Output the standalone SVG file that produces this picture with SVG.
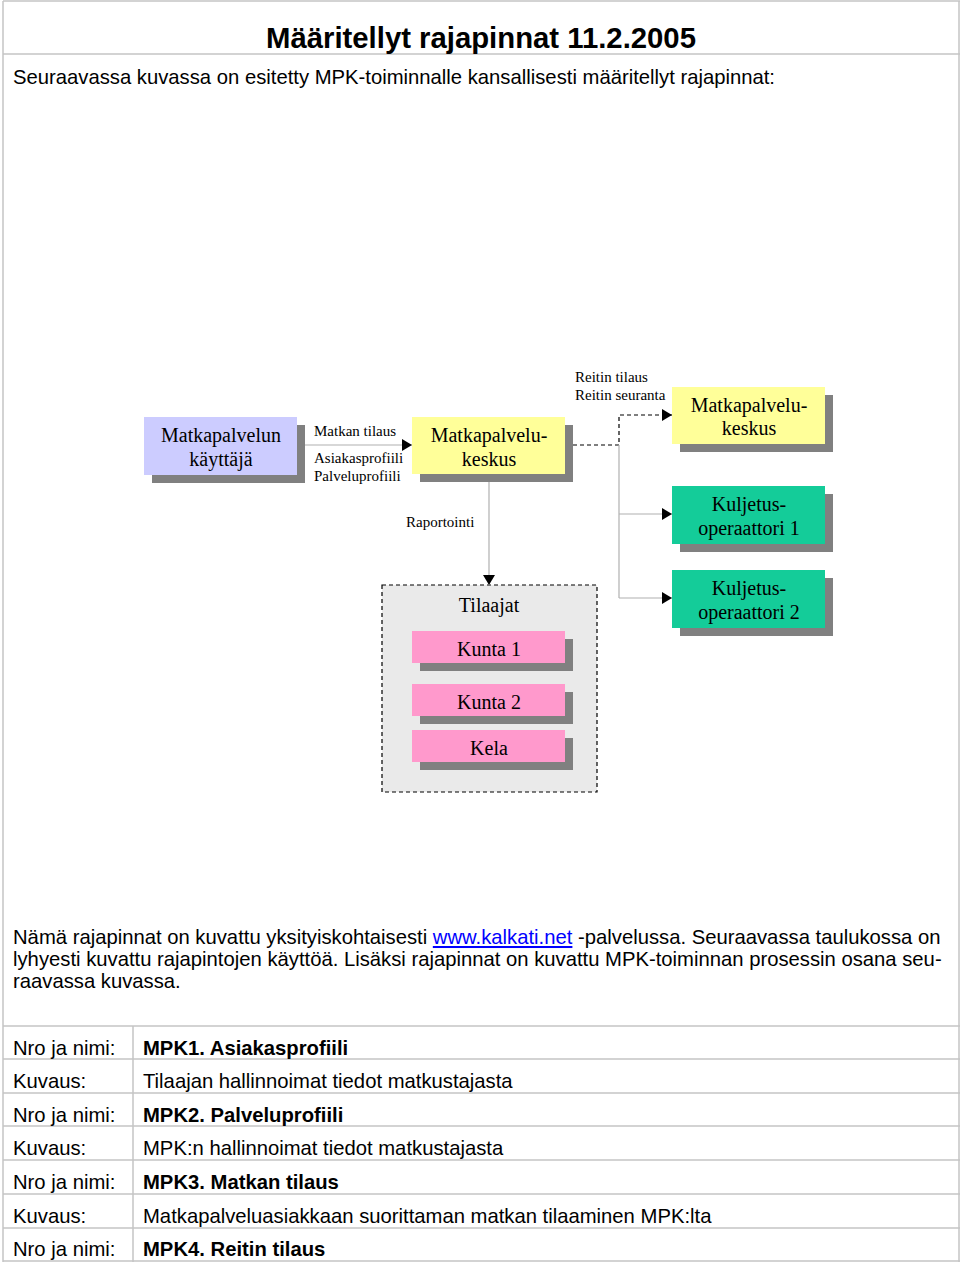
<svg xmlns="http://www.w3.org/2000/svg" width="960" height="1262" viewBox="0 0 960 1262">
<style>
.pg{stroke:#c4c4c4;stroke-width:1.5;fill:none}
.sans{font-family:"Liberation Sans",Arial,sans-serif;font-size:20.25px;fill:#000}
.serif{font-family:"Liberation Serif","Times New Roman",serif;font-size:20px;fill:#000;text-anchor:middle}
.lbl{font-family:"Liberation Serif","Times New Roman",serif;font-size:15px;fill:#000}
.sh{fill:#808080}
.ln{stroke:#b0b0b0;stroke-width:1.2;fill:none}
.dl{stroke:#000;stroke-width:1.2;stroke-dasharray:4 3;fill:none}
</style>
<defs>
<marker id="ah" viewBox="0 0 10 12" refX="10" refY="6" markerWidth="10" markerHeight="12" markerUnits="userSpaceOnUse" orient="auto">
<path d="M0,0 L10,6 L0,12 Z" fill="#000"/>
</marker>
</defs>
<rect width="960" height="1262" fill="#fff"/>
<g id="page">
<line class="pg" x1="3" y1="1" x2="960" y2="1"/>
<line class="pg" x1="3" y1="1" x2="3" y2="1262"/>
<line class="pg" x1="959" y1="1" x2="959" y2="1262"/>
<line class="pg" x1="3" y1="54" x2="960" y2="54"/>
<line class="pg" x1="3" y1="1026" x2="960" y2="1026"/>
<line class="pg" x1="3" y1="1059" x2="960" y2="1059"/>
<line class="pg" x1="3" y1="1093" x2="960" y2="1093"/>
<line class="pg" x1="3" y1="1126" x2="960" y2="1126"/>
<line class="pg" x1="3" y1="1160" x2="960" y2="1160"/>
<line class="pg" x1="3" y1="1194" x2="960" y2="1194"/>
<line class="pg" x1="3" y1="1228" x2="960" y2="1228"/>
<line class="pg" x1="3" y1="1261" x2="960" y2="1261"/>
<line class="pg" x1="133" y1="1026" x2="133" y2="1262"/>
</g>
<g id="texts">
<text x="481" y="48" text-anchor="middle" style="font-family:'Liberation Sans',Arial,sans-serif;font-size:29.3px;font-weight:bold">Määritellyt rajapinnat 11.2.2005</text>
<text class="sans" x="13" y="84">Seuraavassa kuvassa on esitetty MPK-toiminnalle kansallisesti määritellyt rajapinnat:</text>
<text class="sans" x="13" y="944">Nämä rajapinnat on kuvattu yksityiskohtaisesti <tspan fill="#0000ff" text-decoration="underline">www.kalkati.net</tspan> -palvelussa. Seuraavassa taulukossa on</text>
<text class="sans" x="13" y="966">lyhyesti kuvattu rajapintojen käyttöä. Lisäksi rajapinnat on kuvattu MPK-toiminnan prosessin osana seu-</text>
<text class="sans" x="13" y="988">raavassa kuvassa.</text>
</g>
<g id="table">
<text class="sans" x="13" y="1055">Nro ja nimi:</text>
<text class="sans" x="143" y="1055" font-weight="bold">MPK1. Asiakasprofiili</text>
<text class="sans" x="13" y="1088">Kuvaus:</text>
<text class="sans" x="143" y="1088">Tilaajan hallinnoimat tiedot matkustajasta</text>
<text class="sans" x="13" y="1122">Nro ja nimi:</text>
<text class="sans" x="143" y="1122" font-weight="bold">MPK2. Palveluprofiili</text>
<text class="sans" x="13" y="1155">Kuvaus:</text>
<text class="sans" x="143" y="1155">MPK:n hallinnoimat tiedot matkustajasta</text>
<text class="sans" x="13" y="1189">Nro ja nimi:</text>
<text class="sans" x="143" y="1189" font-weight="bold">MPK3. Matkan tilaus</text>
<text class="sans" x="13" y="1223">Kuvaus:</text>
<text class="sans" x="143" y="1223">Matkapalveluasiakkaan suorittaman matkan tilaaminen MPK:lta</text>
<text class="sans" x="13" y="1256">Nro ja nimi:</text>
<text class="sans" x="143" y="1256" font-weight="bold">MPK4. Reitin tilaus</text>
</g>
<g id="tilaajat">
<rect x="382" y="585" width="215" height="207" fill="#eaeaea" stroke="#000" stroke-width="1.2" stroke-dasharray="4 3"/>
<text class="serif" x="489" y="612">Tilaajat</text>
</g>
<g id="connectors">
<line class="ln" x1="297" y1="445" x2="412" y2="445" marker-end="url(#ah)"/>
<path class="dl" d="M573,445 H619 V415 H672" marker-end="url(#ah)"/>
<path class="ln" d="M619,445 V598"/>
<line class="ln" x1="619" y1="514" x2="672" y2="514" marker-end="url(#ah)"/>
<line class="ln" x1="619" y1="598" x2="672" y2="598" marker-end="url(#ah)"/>
<line class="ln" x1="489" y1="475" x2="489" y2="585" marker-end="url(#ah)"/>
<text class="lbl" x="314" y="436">Matkan tilaus</text>
<text class="lbl" x="314" y="463">Asiakasprofiili</text>
<text class="lbl" x="314" y="481">Palveluprofiili</text>
<text class="lbl" x="575" y="382">Reitin tilaus</text>
<text class="lbl" x="575" y="400">Reitin seuranta</text>
<text class="lbl" x="406" y="527">Raportointi</text>
</g>
<g id="kayttaja">
<rect class="sh" x="152" y="425" width="153" height="58"/>
<rect x="144" y="417" width="153" height="58" fill="#ccccff"/>
<text class="serif" x="221" y="442">Matkapalvelun</text>
<text class="serif" x="221" y="466">käyttäjä</text>
</g>
<g id="mpk1">
<rect class="sh" x="420" y="425" width="153" height="57"/>
<rect x="412" y="417" width="153" height="57" fill="#ffff99"/>
<text class="serif" x="489" y="442">Matkapalvelu-</text>
<text class="serif" x="489" y="466">keskus</text>
</g>
<g id="mpk2">
<rect class="sh" x="680" y="395" width="153" height="57"/>
<rect x="672" y="387" width="153" height="57" fill="#ffff99"/>
<text class="serif" x="749" y="412">Matkapalvelu-</text>
<text class="serif" x="749" y="435">keskus</text>
</g>
<g id="kuljetus1">
<rect class="sh" x="680" y="494" width="153" height="58"/>
<rect x="672" y="486" width="153" height="58" fill="#14cc99"/>
<text class="serif" x="749" y="511">Kuljetus-</text>
<text class="serif" x="749" y="535">operaattori 1</text>
</g>
<g id="kuljetus2">
<rect class="sh" x="680" y="578" width="153" height="58"/>
<rect x="672" y="570" width="153" height="58" fill="#14cc99"/>
<text class="serif" x="749" y="595">Kuljetus-</text>
<text class="serif" x="749" y="619">operaattori 2</text>
</g>
<g id="kunta1">
<rect class="sh" x="420" y="639" width="153" height="32"/>
<rect x="412" y="631" width="153" height="32" fill="#ff99cc"/>
<text class="serif" x="489" y="656">Kunta 1</text>
</g>
<g id="kunta2">
<rect class="sh" x="420" y="692" width="153" height="32"/>
<rect x="412" y="684" width="153" height="32" fill="#ff99cc"/>
<text class="serif" x="489" y="709">Kunta 2</text>
</g>
<g id="kela">
<rect class="sh" x="420" y="738" width="153" height="32"/>
<rect x="412" y="730" width="153" height="32" fill="#ff99cc"/>
<text class="serif" x="489" y="755">Kela</text>
</g>
</svg>
